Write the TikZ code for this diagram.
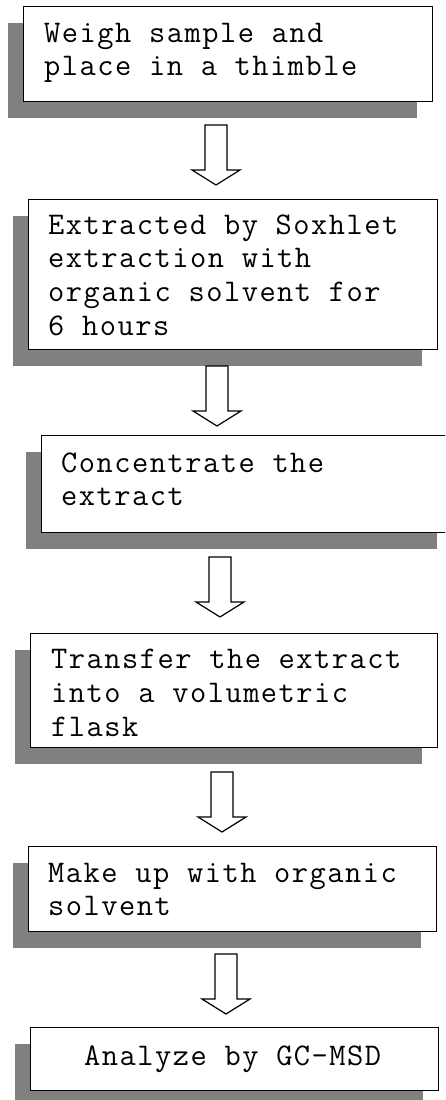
\documentclass[tikz,border=0pt]{standalone}
\usepackage{fontspec}
\newfontfamily\cour{Latin Modern Mono}[LetterSpace=4.8]
\usetikzlibrary{shadows}
\definecolor{shadowgray}{RGB}{128,128,128}
\begin{document}
\begin{tikzpicture}[x=1pt,y=-1pt,
  stepbox/.style={draw=black, line width=1.3pt, fill=white, anchor=north west,
    inner sep=0pt, minimum width=409pt,
    drop shadow={shadow xshift=-16pt, shadow yshift=-16pt, fill=shadowgray, opacity=1}},
  steptext/.style={anchor=base west, inner sep=0pt, font=\cour\fontsize{31.5}{33.8}\selectfont},
  blockarrow/.style={draw=black, line width=1.2pt, fill=white, line join=miter}]
\useasboundingbox (0,0) rectangle (445,1100);
\clip (0,0) rectangle (445,1100);
% boxes
\node[stepbox, minimum height=95pt] (b1) at (23,6) {};
\node[stepbox, minimum height=150pt] (b2) at (28,199) {};
\node[stepbox, minimum height=97pt, minimum width=411pt] (b3) at (41,435) {};
\node[stepbox, minimum height=114pt, minimum width=407pt] (b4) at (30,633) {};
\node[stepbox, minimum height=85pt, minimum width=408pt] (b5) at (28,846) {};
\node[stepbox, minimum height=63pt, minimum width=408pt] (b6) at (30,1027) {};
% texts
\node[steptext] (t1) at (44,42) {\begin{tabular}[t]{@{}l@{}}Weigh sample and\\place in a thimble\end{tabular}};
\node[steptext] (t2) at (48,234) {\begin{tabular}[t]{@{}l@{}}Extracted by Soxhlet\\extraction with\\organic solvent for\\6 hours\end{tabular}};
\node[steptext] (t3) at (61,472) {\begin{tabular}[t]{@{}l@{}}Concentrate the\\extract\end{tabular}};
\node[steptext] (t4) at (51,668.5) {\begin{tabular}[t]{@{}l@{}}Transfer the extract\\into a volumetric\\flask\end{tabular}};
\node[steptext] (t5) at (48,882) {\begin{tabular}[t]{@{}l@{}}Make up with organic\\solvent\end{tabular}};
\node[steptext] (t6) at (84,1065) {Analyze by GC-MSD};
% arrows
\coordinate (a1) at (216,125);
\coordinate (a2) at (217,366);
\coordinate (a3) at (220,557);
\coordinate (a4) at (222,772);
\coordinate (a5) at (226,954);
\foreach \a in {a1,a2,a3,a4,a5}{
  \draw[blockarrow] (\a) ++(-11,0) -- ++(0,45) -- ++(-13,0) -- ++(24,15) -- ++(24,-15) -- ++(-13,0) -- ++(0,-45) -- cycle;
}
\end{tikzpicture}
\end{document}
